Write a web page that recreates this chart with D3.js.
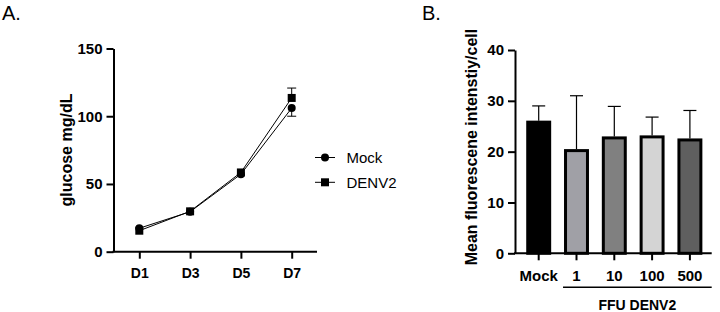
<!DOCTYPE html>
<html>
<head>
<meta charset="utf-8">
<script src="https://cdn.jsdelivr.net/npm/d3@7"></script>
<style>
    body { margin: 0; background: #fff; }
    svg { font-family: "Liberation Sans", Arial, sans-serif; }
    .axis path, .axis line { stroke: #000; stroke-width: 2px; }
    .axis text { font-weight: bold; fill: #000; }
</style>
</head>
<body>
<div id="chart"></div>
<script>
// panel A data
let days = ["D1", "D3", "D5", "D7"];
let mockMean = [17.3, 29.5, 57.2, 106];
let mockErr = [0, 0, 0, 6];
let denvMean = [15.5, 29.8, 58.5, 113.5];
let denvErr = [0, 0, 0, 7.3];
let glucoseTicks = [0, 50, 100, 150];

// panel B data
let groups = ["Mock", "1", "10", "100", "500"];
let fluorMean = [26.1, 20.5, 23.0, 23.2, 22.6];
let fluorErr = [2.9, 10.5, 5.9, 3.6, 5.5];
let barColors = ["#000000", "#a0a0a6", "#808080", "#d4d4d4", "#5f5f5f"];
let fluorTicks = [0, 10, 20, 30, 40];

let svg = d3.select("#chart").append("svg")
    .attr("width", 720)
    .attr("height", 312);

// panel letters
svg.append("text").attr("x", 2).attr("y", 20).style("font-size", "20px").text("A.");
svg.append("text").attr("x", 422).attr("y", 20).style("font-size", "20px").text("B.");

/* * * * panel A * * * */
let xA = d3.scalePoint().domain(days).range([139.3, 291.7]);
let yA = d3.scaleLinear().domain([0, 150]).range([251.7, 48.5]);

let gA = svg.append("g");

gA.append("g")
    .attr("class", "axis")
    .attr("transform", "translate(113.5,0)")
    .call(d3.axisLeft(yA).tickValues(glucoseTicks).tickSize(7).tickSizeOuter(0))
    .call(g => g.selectAll("text").style("font-size", "15px").attr("dx", "-1"));

gA.append("g")
    .attr("class", "axis")
    .attr("transform", "translate(0,251.7)")
    .call(d3.axisBottom(xA).tickSize(7).tickSizeOuter(0))
    .call(g => g.select(".domain").attr("d", "M112.5,0H317"))
    .call(g => g.selectAll("text").style("font-size", "14px").attr("dy", "1.2em"));

gA.append("text")
    .attr("transform", "translate(72,150) rotate(-90)")
    .attr("text-anchor", "middle")
    .style("font-weight", "bold")
    .style("font-size", "16px")
    .text("glucose mg/dL");

let seriesA = [
    {name: "Mock", mean: mockMean, err: mockErr, shape: "circle", legY: 157.5},
    {name: "DENV2", mean: denvMean, err: denvErr, shape: "square", legY: 182.3}
];

let line = d3.line().x((d, i) => xA(days[i])).y(d => yA(d));

seriesA.forEach(s => {
    // error bars
    s.mean.forEach((m, i) => {
        if (s.err[i] <= 0) return;
        let x = xA(days[i]);
        let yTip = s.name === "Mock" ? yA(m - s.err[i]) : yA(m + s.err[i]);
        gA.append("line").attr("x1", x).attr("x2", x).attr("y1", yA(m)).attr("y2", yTip)
            .attr("stroke", "#000").attr("stroke-width", 1);
        gA.append("line").attr("x1", x - 4.5).attr("x2", x + 4.5).attr("y1", yTip).attr("y2", yTip)
            .attr("stroke", "#000").attr("stroke-width", 1);
    });

    gA.append("path")
        .datum(s.mean)
        .attr("d", line)
        .attr("fill", "none")
        .attr("stroke", "#000")
        .attr("stroke-width", 1);

    let pts = gA.selectAll(".pt-" + s.shape).data(s.mean).enter();
    if (s.shape === "circle") {
        pts.append("circle")
            .attr("cx", (d, i) => xA(days[i]))
            .attr("cy", d => yA(d))
            .attr("r", 4);
    } else {
        pts.append("rect")
            .attr("x", (d, i) => xA(days[i]) - 4)
            .attr("y", d => yA(d) - 4)
            .attr("width", 8)
            .attr("height", 8);
    }

    // legend
    gA.append("line").attr("x1", 315).attr("x2", 335).attr("y1", s.legY).attr("y2", s.legY)
        .attr("stroke", "#000").attr("stroke-width", 1);
    if (s.shape === "circle") {
        gA.append("circle").attr("cx", 325).attr("cy", s.legY).attr("r", 4);
    } else {
        gA.append("rect").attr("x", 321).attr("y", s.legY - 4).attr("width", 8).attr("height", 8);
    }
    gA.append("text")
        .attr("x", 346.5)
        .attr("y", s.legY + 5.5)
        .style("font-size", "15px")
        .text(s.name);
});

/* * * * panel B * * * */
let xB = d3.scaleBand().domain(groups).range([519.8, 708.8]).paddingInner(0.34).paddingOuter(0.17);
let yB = d3.scaleLinear().domain([0, 40]).range([253.3, 50]);

let gB = svg.append("g");

// error bars (behind bars)
gB.selectAll(".err").data(groups).enter().append("g")
    .each(function(d, i) {
        let cx = xB(d) + xB.bandwidth() / 2;
        let top = yB(fluorMean[i] + fluorErr[i]);
        d3.select(this).append("line").attr("x1", cx).attr("x2", cx)
            .attr("y1", yB(fluorMean[i])).attr("y2", top)
            .attr("stroke", "#000").attr("stroke-width", 1.2);
        d3.select(this).append("line").attr("x1", cx - 6.5).attr("x2", cx + 6.5)
            .attr("y1", top).attr("y2", top)
            .attr("stroke", "#000").attr("stroke-width", 1.2);
    });

gB.selectAll(".bar").data(groups).enter().append("rect")
    .attr("x", d => xB(d) + 1.5)
    .attr("y", (d, i) => yB(fluorMean[i]) + 1.5)
    .attr("width", xB.bandwidth() - 3)
    .attr("height", (d, i) => yB(0) - yB(fluorMean[i]) - 1.5)
    .attr("fill", (d, i) => barColors[i])
    .attr("stroke", "#000")
    .attr("stroke-width", 3);

gB.append("g")
    .attr("class", "axis")
    .attr("transform", "translate(515,0)")
    .call(d3.axisLeft(yB).tickValues(fluorTicks).tickSize(7).tickSizeOuter(0))
    .call(g => g.selectAll("text").style("font-size", "15px").attr("dx", "-1"));

gB.append("g")
    .attr("class", "axis")
    .attr("transform", "translate(0,253.3)")
    .call(d3.axisBottom(xB).tickSize(7).tickSizeOuter(0))
    .call(g => g.select(".domain").attr("d", "M514,0H711.7"))
    .call(g => g.selectAll("text").style("font-size", "15px").attr("dy", "1.15em"));

gB.append("text")
    .attr("transform", "translate(477,147) rotate(-90)")
    .attr("text-anchor", "middle")
    .style("font-weight", "bold")
    .style("font-size", "16px")
    .text("Mean fluorescene intenstiy/cell");

// group bracket under the DENV2 doses
let x1 = xB("1") - 1, x2 = 711.7;
gB.append("line").attr("x1", x1).attr("x2", x2).attr("y1", 287.3).attr("y2", 287.3)
    .attr("stroke", "#000").attr("stroke-width", 1.5);
gB.append("text")
    .attr("x", (x1 + x2) / 2)
    .attr("y", 310)
    .attr("text-anchor", "middle")
    .style("font-weight", "bold")
    .style("font-size", "14px")
    .text("FFU DENV2");
</script>
</body>
</html>
